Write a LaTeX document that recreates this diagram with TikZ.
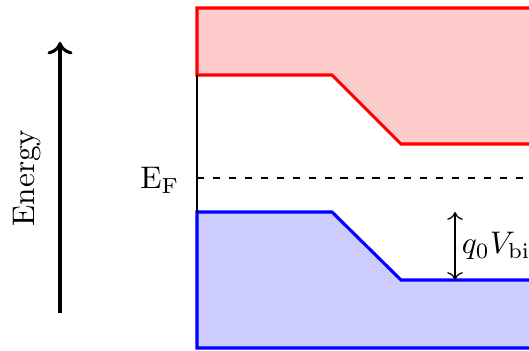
\documentclass[tikz,border=0pt]{standalone}
\usepackage{amsmath}
\usepackage{tikz}
\usetikzlibrary{arrows.meta}

\begin{document}
\begin{tikzpicture}[x=0.32pt, y=-0.32pt,
    band/.style={line width=1pt, line join=miter},
    fermi/.style={dash pattern=on 2.3pt off 2.8pt, line width=0.35pt}]
    \useasboundingbox (0,0) rectangle (529,351);
    \clip (0,0) rectangle (529,351);
    % conduction band
    \coordinate (CL) at (197,75);
    \coordinate (CK1) at (332,75);
    \coordinate (CK2) at (401,144);
    \filldraw[band, draw=red, fill=red!20] (197,8) -- (560,8) -- (560,144) -- (CK2) -- (CK1) -- (CL) -- cycle;
    % valence band
    \coordinate (VL) at (197,212);
    \coordinate (VK1) at (332,212);
    \coordinate (VK2) at (401,280);
    \filldraw[band, draw=blue, fill=blue!20] (VL) -- (VK1) -- (VK2) -- (560,280) -- (560,348) -- (197,348) -- cycle;
    \draw[line width=0.65pt] (CL) -- (VL);
    % Fermi level
    \coordinate (F) at (197,178);
    \coordinate (Fend) at (529,178);
    \draw[fermi] (F) -- (Fend);
    \node[anchor=east, inner sep=0pt] (EF) at (180,180) {$\mathrm{E_F}$};
    % energy axis
    \coordinate (Elo) at (60,313);
    \coordinate (Ehi) at (60,42);
    \draw[line width=1pt, -{To[length=4pt,width=8pt]}] (Elo) -- (Ehi);
    \node[rotate=90] (en) at (27,178) {Energy};
    % built-in potential
    \coordinate (Vtop) at (455,212);
    \coordinate (Vbot) at (455,280);
    \draw[line width=0.4pt, {To[length=2.5pt,width=5pt]}-{To[length=2.5pt,width=5pt]}] (Vtop) -- (Vbot);
    \node[right, inner sep=2pt] (vbi) at (455,246) {$q_0V_{\mathrm{bi}}$};
\end{tikzpicture}
\end{document}
